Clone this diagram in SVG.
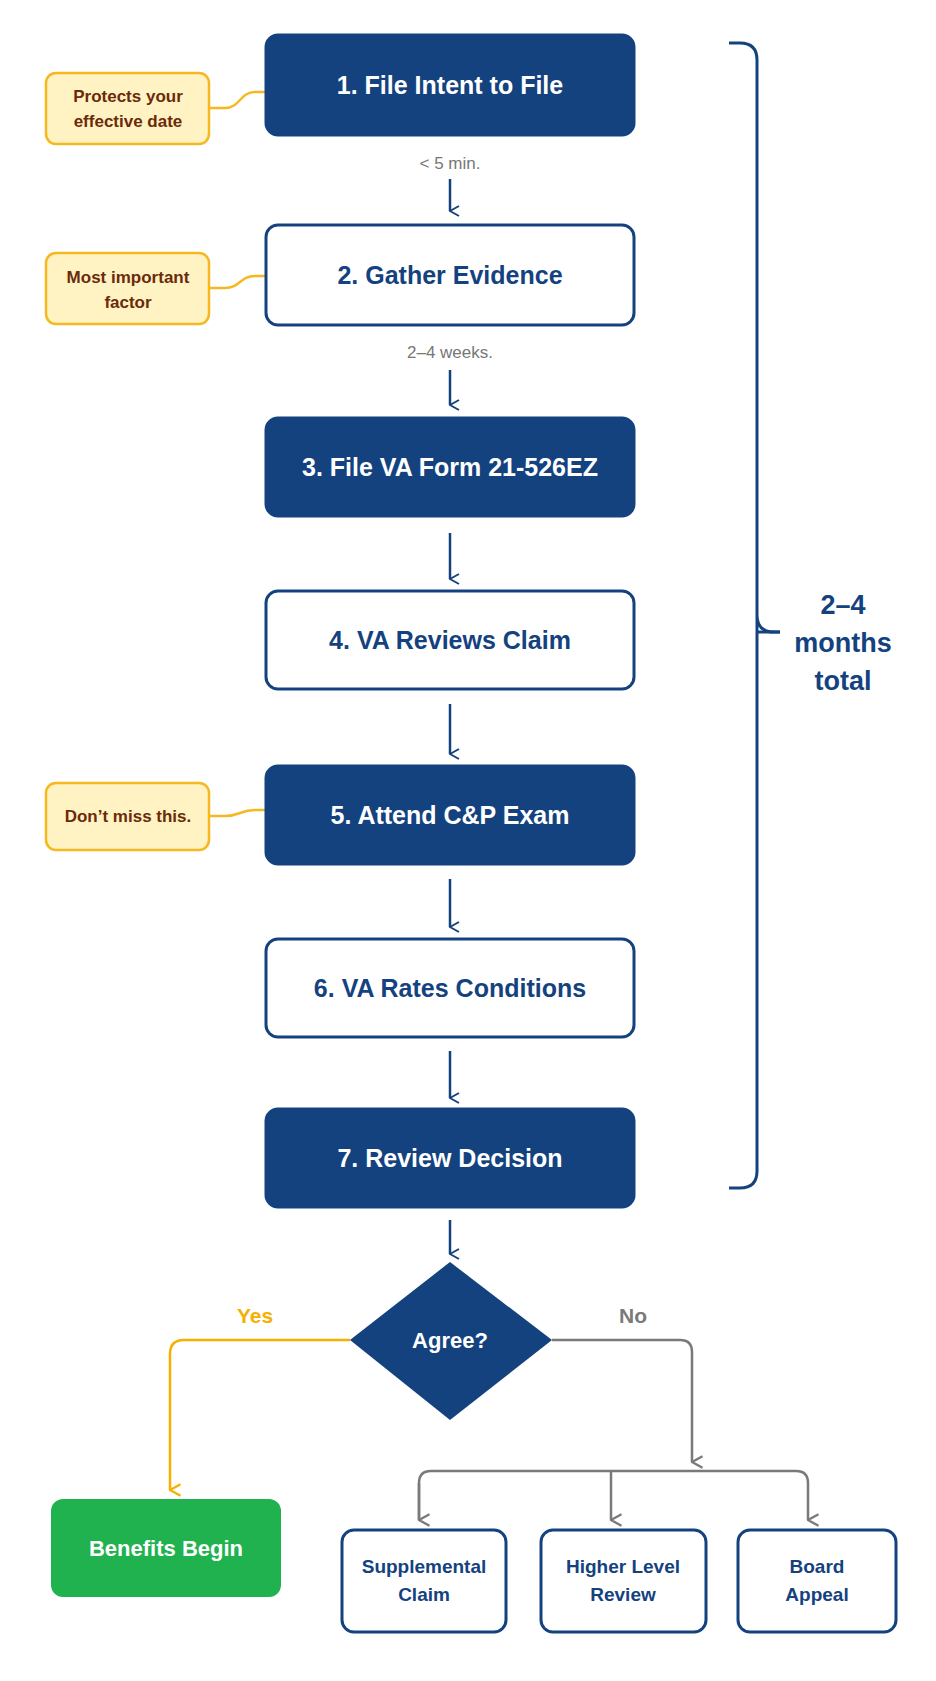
<svg xmlns="http://www.w3.org/2000/svg" width="936" height="1681" viewBox="0 0 936 1681">
<defs>
<style>
.fill{fill:#14427f;stroke:#14427f;stroke-width:3}
.out{fill:#fff;stroke:#14427f;stroke-width:3}
.tw{fill:#fff;font:bold 25px "Liberation Sans",Arial,sans-serif;text-anchor:middle}
.tb{fill:#14427f;font:bold 25px "Liberation Sans",Arial,sans-serif;text-anchor:middle}
.cal{fill:#fff3c4;stroke:#f5b820;stroke-width:2.5}
.ct{fill:#6b2a0a;font:bold 17px "Liberation Sans",Arial,sans-serif;text-anchor:middle}
.lab{fill:#777;font:17px "Liberation Sans",Arial,sans-serif;text-anchor:middle}
.st{fill:#14427f;font:bold 19px "Liberation Sans",Arial,sans-serif;text-anchor:middle}
.ar{fill:none;stroke:#14427f;stroke-width:2.5}
</style>
<marker id="mb" viewBox="0 0 12 12" refX="6" refY="11" markerWidth="12" markerHeight="12" markerUnits="userSpaceOnUse" orient="auto-start-reverse"><path d="M1 2 L6 11 L11 2" fill="none" stroke="#14427f" stroke-width="2"/></marker>
<marker id="mg" viewBox="0 0 12 12" refX="6" refY="11" markerWidth="14" markerHeight="14" markerUnits="userSpaceOnUse" orient="auto"><path d="M1 2 L6 11 L11 2" fill="none" stroke="#7a7a7a" stroke-width="2"/></marker>
<marker id="my" viewBox="0 0 12 12" refX="6" refY="11" markerWidth="14" markerHeight="14" markerUnits="userSpaceOnUse" orient="auto"><path d="M1 2 L6 11 L11 2" fill="none" stroke="#f5b000" stroke-width="2"/></marker>
</defs>
<rect width="936" height="1681" fill="#fff"/>
<g id="connectors">
<g class="ar" marker-end="url(#mb)">
<path d="M450 179V211"/><path d="M450 370V405"/><path d="M450 533V579"/><path d="M450 704V754"/><path d="M450 879V927"/><path d="M450 1051V1098"/><path d="M450 1220V1254"/>
</g>
<g fill="none" stroke="#f5b820" stroke-width="2.5">
<path d="M209 108H225C240 108 240 92 255 92H265"/>
<path d="M209 288H225C240 288 240 276 255 276H265"/>
<path d="M209 816H225C240 816 240 810 255 810H265"/>
</g>
<path d="M350 1340H184Q170 1340 170 1354V1490" fill="none" stroke="#f5b000" stroke-width="2.5" marker-end="url(#my)"/>
<path d="M552 1340H680Q692 1340 692 1352V1462" fill="none" stroke="#7a7a7a" stroke-width="2.5" marker-end="url(#mg)"/>
<path d="M419 1520V1483Q419 1471 431 1471H796Q808 1471 808 1483V1520" fill="none" stroke="#7a7a7a" stroke-width="2.5" marker-end="url(#mg)"/>
<path d="M419 1483V1520" fill="none" stroke="#7a7a7a" stroke-width="2.5" marker-end="url(#mg)"/>
<path d="M611 1471V1520" fill="none" stroke="#7a7a7a" stroke-width="2.5" marker-end="url(#mg)"/>
<text class="lab" x="450" y="169">&lt; 5 min.</text>
<text class="lab" x="450" y="358">2–4 weeks.</text>
<text x="255" y="1323" fill="#f5b000" style="font:bold 21px 'Liberation Sans',Arial,sans-serif;text-anchor:middle">Yes</text>
<text x="633" y="1323" fill="#7a7a7a" style="font:bold 21px 'Liberation Sans',Arial,sans-serif;text-anchor:middle">No</text>
</g>
<g id="bracket">
<path d="M729 43H740Q757 43 757 60V615Q757 632 774 632H780M757 615V1171Q757 1188 740 1188H729" fill="none" stroke="#14427f" stroke-width="3"/>
<path d="M757 632H780" stroke="#14427f" stroke-width="3"/>
<text class="tb" x="843" y="614" style="font-size:27px">2–4</text>
<text class="tb" x="843" y="652" style="font-size:27px">months</text>
<text class="tb" x="843" y="690" style="font-size:27px">total</text>
</g>
<g id="n1"><rect class="fill" x="266" y="35" width="368" height="100" rx="12"/><text class="tw" x="450" y="94">1. File Intent to File</text></g>
<g id="n2"><rect class="out" x="266" y="225" width="368" height="100" rx="12"/><text class="tb" x="450" y="284">2. Gather Evidence</text></g>
<g id="n3"><rect class="fill" x="266" y="418" width="368" height="98" rx="12"/><text class="tw" x="450" y="476">3. File VA Form 21-526EZ</text></g>
<g id="n4"><rect class="out" x="266" y="591" width="368" height="98" rx="12"/><text class="tb" x="450" y="649">4. VA Reviews Claim</text></g>
<g id="n5"><rect class="fill" x="266" y="766" width="368" height="98" rx="12"/><text class="tw" x="450" y="824">5. Attend C&amp;P Exam</text></g>
<g id="n6"><rect class="out" x="266" y="939" width="368" height="98" rx="12"/><text class="tb" x="450" y="997">6. VA Rates Conditions</text></g>
<g id="n7"><rect class="fill" x="266" y="1109" width="368" height="98" rx="12"/><text class="tw" x="450" y="1167">7. Review Decision</text></g>
<g id="c1"><rect class="cal" x="46" y="73" width="163" height="71" rx="10"/><text class="ct" x="128" y="102">Protects your</text><text class="ct" x="128" y="127">effective date</text></g>
<g id="c2"><rect class="cal" x="46" y="253" width="163" height="71" rx="10"/><text class="ct" x="128" y="283">Most important</text><text class="ct" x="128" y="308">factor</text></g>
<g id="c3"><rect class="cal" x="46" y="783" width="163" height="67" rx="10"/><text class="ct" x="128" y="822">Don’t miss this.</text></g>
<g id="agree"><path d="M450 1262L552 1340L450 1420L350 1340Z" fill="#14427f"/><text class="tw" x="450" y="1348" style="font-size:22px">Agree?</text></g>
<g id="benefits"><rect x="51" y="1499" width="230" height="98" rx="12" fill="#1fb24e"/><text class="tw" x="166" y="1556" style="font-size:22px">Benefits Begin</text></g>
<g id="supp"><rect class="out" x="342" y="1530" width="164" height="102" rx="12"/><text class="st" x="424" y="1573">Supplemental</text><text class="st" x="424" y="1601">Claim</text></g>
<g id="hlr"><rect class="out" x="541" y="1530" width="165" height="102" rx="12"/><text class="st" x="623" y="1573">Higher Level</text><text class="st" x="623" y="1601">Review</text></g>
<g id="board"><rect class="out" x="738" y="1530" width="158" height="102" rx="12"/><text class="st" x="817" y="1573">Board</text><text class="st" x="817" y="1601">Appeal</text></g>
</svg>
